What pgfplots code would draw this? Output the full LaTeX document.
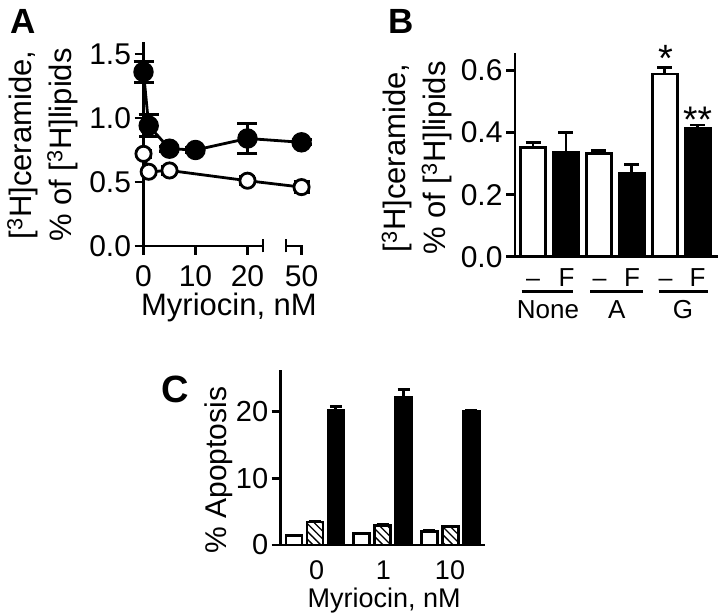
\documentclass[border=0pt]{standalone}
\usepackage{fontspec}
\setmainfont{Liberation Sans}
\usepackage{pgfplots}
\pgfplotsset{compat=1.18}
\usetikzlibrary{patterns.meta}
\pgfplotsset{
  panel/.style={
    scale only axis,
    axis x line*=bottom, axis y line*=left,
    axis line style={line width=2.8bp, black, -},
    tick align=outside,
    major tick length=9bp,
    tick style={line width=2.8bp, black},
    tick label style={font=\fontsize{30bp}{36bp}\selectfont},
    /pgf/number format/assume math mode=true,
    xtick pos=lower, ytick pos=left,
    clip=false,
  },
  ebar/.style={error bars/.cd, y dir=plus, y explicit,
    error bar style={line width=2.8bp, black},
    error mark options={rotate=90, mark size=#1, line width=2.8bp, black}},
}
\begin{document}
\begin{tikzpicture}[x=1bp,y=1bp]
\useasboundingbox (0,0) rectangle (720,613);

% ---------------- Panel A ----------------
\begin{axis}[panel, at={(143.5bp,367bp)}, anchor=south west,
  width=159.6bp, height=203.5bp,
  xmin=0, xmax=30.7, ymin=0, ymax=1.59,
  xtick={0,10,20,30.4}, xticklabels={0,10,20,50},
  xticklabel style={yshift=-7bp},
  ytick={0,0.5,1,1.5}, yticklabels={0.0,0.5,1.0,1.5},
  x axis line style={draw=none}]
\draw[line width=2.8bp] ([xshift=-1.4bp]axis cs:0,0) -- (axis cs:23,0);
\draw[line width=2.8bp] ([yshift=-6.5bp]axis cs:23,0) -- ([yshift=6.5bp]axis cs:23,0);
\draw[line width=2.8bp] (axis cs:27.4,0) -- ([xshift=1.4bp]axis cs:30.4,0);
\draw[line width=2.8bp] ([yshift=-6.5bp]axis cs:27.4,0) -- ([yshift=6.5bp]axis cs:27.4,0);
% open circles
\addplot[black, line width=2.8bp, mark=*, mark size=7.6bp,
  mark options={fill=white, draw=black, line width=2.8bp},
  error bars/.cd, y dir=both, y explicit,
  error bar style={line width=2.8bp, black},
  error mark options={rotate=90, mark size=8bp, line width=2.8bp, black}]
  table[x=x, y=y, y error=e] {
x y e
0 0.72 0.03
1 0.58 0.02
5 0.59 0.03
20 0.51 0.03
30.4 0.46 0.045
};
% filled circles
\addplot[black, line width=2.8bp, mark=*, mark size=8.8bp,
  mark options={fill=black, draw=black},
  error bars/.cd, y dir=both, y explicit,
  error bar style={line width=2.8bp, black},
  error mark options={rotate=90, mark size=10bp, line width=2.8bp, black}]
  table[x=x, y=y, y error=e] {
x y e
0 1.36 0.08
1 0.94 0.085
5 0.76 0.02
10 0.75 0.02
20 0.84 0.12
30.4 0.81 0.02
};
\end{axis}
\node[font=\fontsize{35bp}{40bp}\selectfont\bfseries, inner sep=0pt] at (23.5,591.5) {A};
\node[rotate=90, align=center, inner sep=0pt, font=\fontsize{31bp}{40bp}\selectfont] at (42.5,468)
  {[\textsuperscript{3}H]ceramide,\\\% of [\textsuperscript{3}H]lipids};
\node[anchor=base, inner sep=0pt, font=\fontsize{31bp}{36bp}\selectfont] at (229,297) {Myriocin, nM};

% ---------------- Panel B ----------------
\begin{axis}[panel, at={(515bp,356.3bp)}, anchor=south west,
  width=203bp, height=203.4bp,
  xmin=0.453, xmax=6.62, ymin=0, ymax=0.656,
  ytick={0,0.2,0.4,0.6}, yticklabels={0.0,0.2,0.4,0.6},
  xtick=\empty, ybar, bar width=25bp]
\addplot[draw=black, fill=white, line width=2.8bp, bar shift=0pt, ebar=7.5bp]
  table[x=x, y=y, y error=e] {
x y e
1 0.352 0.017
3 0.334 0.008
5 0.589 0.02
};
\addplot[draw=black, fill=black, line width=2.8bp, bar shift=0pt, ebar=7.5bp]
  table[x=x, y=y, y error=e] {
x y e
2 0.337 0.063
4 0.269 0.028
6 0.414 0.011
};
\end{axis}
\node[font=\fontsize{35bp}{40bp}\selectfont\bfseries, inner sep=0pt] at (401,591.3) {B};
\node[rotate=90, align=center, inner sep=0pt, font=\fontsize{31bp}{40bp}\selectfont] at (417,455)
  {[\textsuperscript{3}H]ceramide,\\\% of [\textsuperscript{3}H]lipids};
\node[anchor=base, inner sep=0pt, font=\fontsize{38bp}{44bp}\selectfont] at (665.5,541) {*};
\node[anchor=base, inner sep=0pt, font=\fontsize{37bp}{44bp}\selectfont] at (697.5,480) {**};
\foreach \xa/\xb in {533/566.5, 599.5/632, 665.5/697.5}{
  \node[anchor=base, inner sep=0pt, font=\fontsize{25bp}{30bp}\selectfont] at (\xa,326.3) {--};
  \node[anchor=base, inner sep=0pt, font=\fontsize{26bp}{30bp}\selectfont] at (\xb,326.3) {F};
}
\draw[line width=2.8bp] (521.7,321.3) -- (573.3,321.3);
\draw[line width=2.8bp] (590,321.3) -- (642.7,321.3);
\draw[line width=2.8bp] (659,321.3) -- (708,321.3);
\node[anchor=base, inner sep=0pt, font=\fontsize{26bp}{30bp}\selectfont] at (548,294.7) {None};
\node[anchor=base, inner sep=0pt, font=\fontsize{26bp}{30bp}\selectfont] at (616.7,294.7) {A};
\node[anchor=base, inner sep=0pt, font=\fontsize{26bp}{30bp}\selectfont] at (683,294.7) {G};

% ---------------- Panel C ----------------
\begin{axis}[panel, at={(280.7bp,68bp)}, anchor=south west,
  width=204.3bp, height=174.8bp,
  xmin=-0.504, xmax=2.514, ymin=0, ymax=26.2,
  ytick={0,10,20}, xtick=\empty,
  tick label style={font=\fontsize{29bp}{34bp}\selectfont},
  ybar, bar width=16bp]
\addplot[draw=black, fill=white, line width=2.6bp, bar shift=-21bp, ebar=6bp]
  table[x=x, y=y, y error=e] {
x y e
0 1.4 0.05
1 1.75 0.05
2 2.0 0.15
};
\addplot[draw=black, line width=2.6bp, bar shift=0bp,
  pattern={Lines[angle=-45,distance=5.5bp,line width=1.3bp]}, pattern color=black, ebar=6bp]
  table[x=x, y=y, y error=e] {
x y e
0 3.45 0.1
1 2.95 0.15
2 2.75 0.05
};
\addplot[draw=black, fill=black, line width=2.6bp, bar shift=21bp, ebar=6bp]
  table[x=x, y=y, y error=e] {
x y e
0 20.2 0.6
1 22.1 1.2
2 20.0 0.15
};
\end{axis}
\node[font=\fontsize{38bp}{44bp}\selectfont\bfseries, inner sep=0pt] at (175,224) {C};
\node[rotate=90, inner sep=0pt, font=\fontsize{30bp}{36bp}\selectfont] at (219,143) {\% Apoptosis};
\foreach \xx/\lab in {316.7/0, 383.3/1, 450/10}{
  \node[anchor=base, inner sep=0pt, font=\fontsize{27bp}{32bp}\selectfont] at (\xx,33) {\lab};
}
\node[anchor=base, inner sep=0pt, font=\fontsize{27bp}{32bp}\selectfont] at (384.2,5.7) {Myriocin, nM};
\end{tikzpicture}
\end{document}
